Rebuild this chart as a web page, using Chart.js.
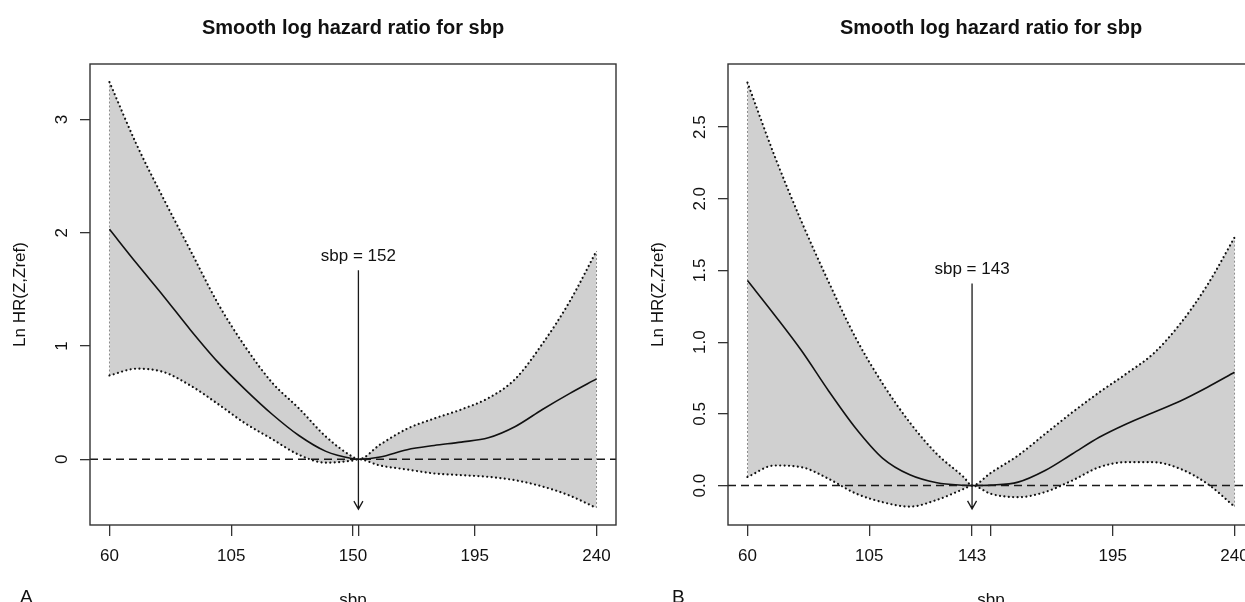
<!DOCTYPE html>
<html>
<head>
<meta charset="utf-8">
<title>Smooth log hazard ratio for sbp</title>
<script src="https://cdn.jsdelivr.net/npm/chart.js@4.4.1/dist/chart.umd.min.js"></script>
<style>
  html, body { margin: 0; padding: 0; background: #fff; overflow: hidden; }
  #wrap { position: relative; width: 1245px; height: 602px; overflow: hidden; }
  #wrap canvas { position: absolute; top: 0; }
</style>
</head>
<body>
<div id="wrap">
  <canvas id="chartA" width="638" height="620" style="left:0"></canvas>
  <canvas id="chartB" width="638" height="620" style="left:638px"></canvas>
</div>
<script>
const TITLE = `Smooth log hazard ratio for sbp`;
const Y_TITLE = `Ln HR(Z,Zref)`;
const X_TITLE = `sbp`;
const FONT = `"Liberation Sans", Arial, Helvetica, sans-serif`;

// panel A
const sbpA = [60, 70, 80, 90, 100, 110, 120, 130, 140, 150, 152, 160, 170, 180, 190, 200, 210, 220, 230, 240];
const centerA = [2.03, 1.73, 1.44, 1.14, 0.86, 0.62, 0.40, 0.21, 0.07, 0.005, 0, 0.02, 0.085, 0.122, 0.152, 0.19, 0.29, 0.44, 0.58, 0.71];
const upperA = [3.33, 2.78, 2.30, 1.84, 1.38, 1.00, 0.68, 0.45, 0.20, 0.02, 0, 0.13, 0.27, 0.36, 0.44, 0.54, 0.71, 1.02, 1.39, 1.84];
const lowerA = [0.74, 0.80, 0.77, 0.65, 0.49, 0.32, 0.18, 0.04, -0.03, -0.01, 0, -0.055, -0.09, -0.125, -0.14, -0.155, -0.185, -0.24, -0.32, -0.43];
const xTicksA = [60, 105, 150, 152, 195, 240];
const xTickLabelsA = [`60`, `105`, `150`, ``, `195`, `240`];
const yTicksA = [0, 1, 2, 3];
const yTickLabelsA = [`0`, `1`, `2`, `3`];
const yRangeA = [-0.58, 3.49];
const arrowA = {x: 152, from: 1.67, to: -0.44, labelY: 1.79, label: `sbp = 152`};

// panel B
const sbpB = [60, 70, 80, 90, 100, 110, 120, 130, 140, 143, 150, 160, 170, 180, 190, 200, 210, 220, 230, 240];
const centerB = [1.43, 1.19, 0.94, 0.66, 0.40, 0.19, 0.075, 0.02, 0.002, 0, 0.003, 0.024, 0.105, 0.22, 0.337, 0.43, 0.51, 0.59, 0.686, 0.79];
const upperB = [2.81, 2.30, 1.84, 1.42, 1.03, 0.71, 0.44, 0.22, 0.058, 0, 0.09, 0.21, 0.36, 0.51, 0.65, 0.78, 0.92, 1.13, 1.40, 1.73];
const lowerB = [0.06, 0.14, 0.128, 0.047, -0.055, -0.116, -0.147, -0.10, -0.023, 0, -0.058, -0.081, -0.045, 0.035, 0.128, 0.163, 0.163, 0.116, 0.012, -0.147];
const xTicksB = [60, 105, 143, 150, 195, 240];
const xTickLabelsB = [`60`, `105`, `143`, ``, `195`, `240`];
const yTicksB = [0, 0.5, 1, 1.5, 2, 2.5];
const yTickLabelsB = [`0.0`, `0.5`, `1.0`, `1.5`, `2.0`, `2.5`];
const yRangeB = [-0.275, 2.94];
const arrowB = {x: 143, from: 1.41, to: -0.163, labelY: 1.51, label: `sbp = 143`};

const xRange = [52.8, 247.2];
const REF_Y = 0;

const toPoints = (xs, ys) => xs.map((x, i) => ({x, y: ys[i]}));

const rPlot = {
  id: `rPlot`,
  afterDatasetsDraw(chart, args, opts) {
    const {ctx, chartArea: a, scales: {x, y}} = chart;
    ctx.save();
    // dashed reference line
    const y0 = y.getPixelForValue(REF_Y);
    ctx.strokeStyle = `#1a1a1a`;
    ctx.lineWidth = 1.5;
    ctx.setLineDash([8, 5]);
    ctx.beginPath();
    ctx.moveTo(a.left, y0);
    ctx.lineTo(a.right, y0);
    ctx.stroke();
    // arrow with label
    const arrow = opts.arrow;
    const ax = x.getPixelForValue(arrow.x);
    const top = y.getPixelForValue(arrow.from);
    const tip = y.getPixelForValue(arrow.to);
    ctx.setLineDash([]);
    ctx.lineWidth = 1.3;
    ctx.beginPath();
    ctx.moveTo(ax, top);
    ctx.lineTo(ax, tip);
    ctx.moveTo(ax - 4.5, tip - 8);
    ctx.lineTo(ax, tip);
    ctx.lineTo(ax + 4.5, tip - 8);
    ctx.stroke();
    ctx.fillStyle = `#111`;
    ctx.font = `17px ${FONT}`;
    ctx.textAlign = `center`;
    ctx.textBaseline = `middle`;
    ctx.fillText(arrow.label, ax, y.getPixelForValue(arrow.labelY));
    ctx.restore();
  },
  afterDraw(chart, args, opts) {
    const {ctx, chartArea: a, scales: {y}} = chart;
    ctx.save();
    ctx.strokeStyle = `#333`;
    ctx.lineWidth = 1.4;
    ctx.strokeRect(a.left, a.top, a.right - a.left, a.bottom - a.top);
    // y tick labels, parallel to the axis like R does
    ctx.fillStyle = `#111`;
    ctx.font = `17px ${FONT}`;
    ctx.textAlign = `center`;
    ctx.textBaseline = `middle`;
    opts.yTicks.forEach((v, i) => {
      ctx.save();
      ctx.translate(a.left - 28, y.getPixelForValue(v));
      ctx.rotate(-Math.PI / 2);
      ctx.fillText(opts.yTickLabels[i], 0, 0);
      ctx.restore();
    });
    ctx.font = `19px ${FONT}`;
    ctx.textAlign = `left`;
    ctx.textBaseline = `alphabetic`;
    ctx.fillText(opts.letter, opts.letterX, 603);
    ctx.restore();
  }
};

const makeChart = (id, panel) => {
  const dotted = {
    borderColor: `#111`,
    borderWidth: 2.2,
    borderDash: [0.01, 4.4],
    borderCapStyle: `round`,
    pointRadius: 0,
    cubicInterpolationMode: `monotone`
  };
  const edge = {
    borderColor: `#8c8c8c`,
    borderWidth: 1,
    borderDash: [2, 2],
    pointRadius: 0,
    fill: false
  };
  const n = panel.sbp.length - 1;

  return new Chart(document.getElementById(id), {
    type: `line`,
    plugins: [rPlot],
    data: {
      datasets: [
        Object.assign({data: toPoints(panel.sbp, panel.upper), fill: `+1`, backgroundColor: `#d0d0d0`, order: 1}, dotted),
        Object.assign({data: toPoints(panel.sbp, panel.lower), fill: false, order: 1}, dotted),
        {
          data: toPoints(panel.sbp, panel.center),
          borderColor: `#111`,
          borderWidth: 1.6,
          pointRadius: 0,
          fill: false,
          cubicInterpolationMode: `monotone`,
          order: 0
        },
        Object.assign({data: [{x: panel.sbp[0], y: panel.lower[0]}, {x: panel.sbp[0], y: panel.upper[0]}], order: 2}, edge),
        Object.assign({data: [{x: panel.sbp[n], y: panel.lower[n]}, {x: panel.sbp[n], y: panel.upper[n]}], order: 2}, edge)
      ]
    },
    options: {
      responsive: false,
      animation: false,
      devicePixelRatio: 1,
      layout: {padding: {left: 0, top: 0, right: 22, bottom: 0}},
      plugins: {
        legend: {display: false},
        tooltip: {enabled: false},
        filler: {drawTime: `beforeDatasetsDraw`},
        title: {
          display: true,
          text: TITLE,
          fullSize: false,
          color: `#111`,
          font: {family: FONT, size: 20, weight: `bold`},
          padding: {top: 16, bottom: 24}
        },
        rPlot: {
          arrow: panel.arrow,
          yTicks: panel.yTicks,
          yTickLabels: panel.yTickLabels,
          letter: panel.letter,
          letterX: panel.letterX
        }
      },
      scales: {
        x: {
          type: `linear`,
          min: xRange[0],
          max: xRange[1],
          border: {display: false},
          grid: {drawOnChartArea: false, drawTicks: true, tickLength: 11, color: `#333`, lineWidth: 1.3},
          afterBuildTicks: (scale) => {
            scale.ticks = panel.xTicks.map((v) => ({value: v}));
          },
          afterFit: (scale) => {
            scale.height = 95;
          },
          ticks: {
            autoSkip: false,
            maxRotation: 0,
            minRotation: 0,
            padding: 10,
            color: `#111`,
            font: {family: FONT, size: 17},
            callback: (value, index) => panel.xTickLabels[index]
          },
          title: {
            display: true,
            text: X_TITLE,
            color: `#111`,
            font: {family: FONT, size: 17},
            padding: {top: 0, bottom: 9}
          }
        },
        y: {
          type: `linear`,
          min: panel.yRange[0],
          max: panel.yRange[1],
          border: {display: false},
          grid: {drawOnChartArea: false, drawTicks: true, tickLength: 10, color: `#333`, lineWidth: 1.3},
          afterBuildTicks: (scale) => {
            scale.ticks = panel.yTicks.map((v) => ({value: v}));
          },
          afterFit: (scale) => {
            scale.width = 90;
          },
          ticks: {display: false},
          title: {
            display: true,
            text: Y_TITLE,
            color: `#111`,
            font: {family: FONT, size: 17},
            padding: {top: 10, bottom: 0}
          }
        }
      }
    }
  });
};

makeChart(`chartA`, {
  sbp: sbpA, center: centerA, upper: upperA, lower: lowerA,
  xTicks: xTicksA, xTickLabels: xTickLabelsA, yTicks: yTicksA, yTickLabels: yTickLabelsA,
  yRange: yRangeA, arrow: arrowA, letter: `A`, letterX: 20
});

makeChart(`chartB`, {
  sbp: sbpB, center: centerB, upper: upperB, lower: lowerB,
  xTicks: xTicksB, xTickLabels: xTickLabelsB, yTicks: yTicksB, yTickLabels: yTickLabelsB,
  yRange: yRangeB, arrow: arrowB, letter: `B`, letterX: 34
});
</script>
</body>
</html>
